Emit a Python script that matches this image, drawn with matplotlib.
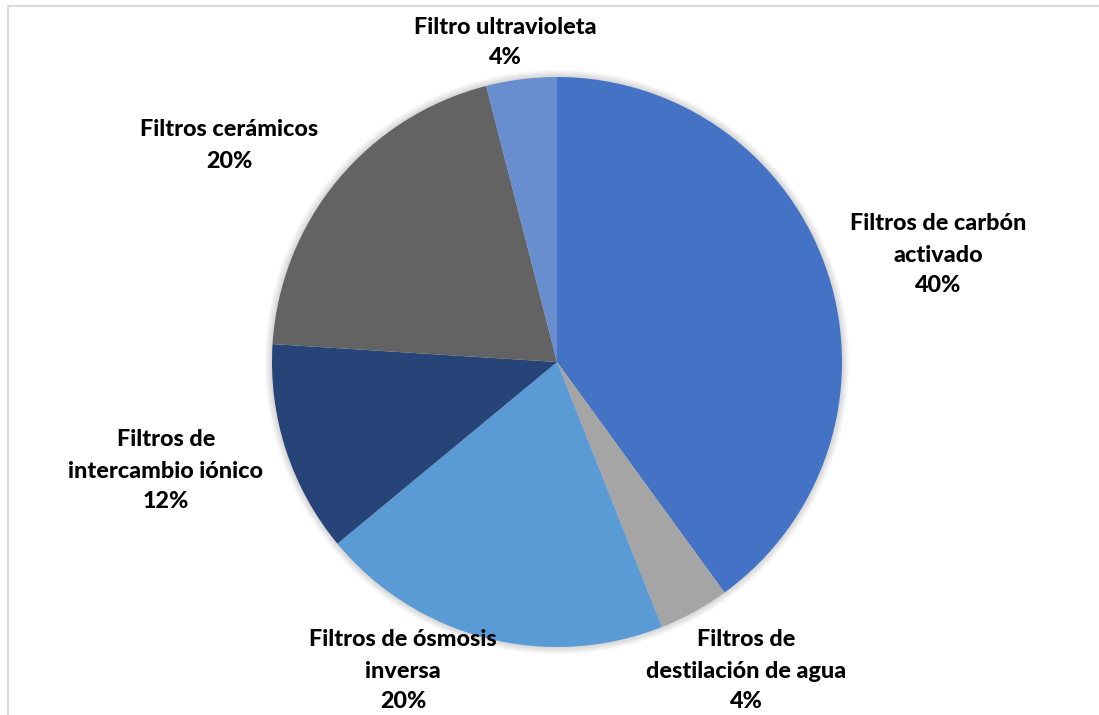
import matplotlib
matplotlib.use("Agg")
import matplotlib.pyplot as plt
from matplotlib.patches import Rectangle, Circle

# Tipos de filtro y su participación (%)
categorias = [
    "Filtros de carbón\nactivado",
    "Filtros de\ndestilación de agua",
    "Filtros de ósmosis\ninversa",
    "Filtros de\nintercambio iónico",
    "Filtros cerámicos",
    "Filtro ultravioleta",
]
valores = [40, 4, 20, 12, 20, 4]
colores = ["#4472C4", "#A5A5A5", "#5B9BD5", "#264478", "#636363", "#698ED0"]

W, H = 1099, 715
fig = plt.figure(figsize=(W / 100, H / 100), dpi=100)
ax = fig.add_axes([0, 0, 1, 1])

cx, cy, r = 557, H - 362, 285

# Soft shadow around the pie
for i in range(8):
    ax.add_patch(Circle((cx, cy), r + 1 + i * 0.9, facecolor="black",
                        alpha=0.018, edgecolor="none", zorder=1))

ax.pie(valores, colors=colores, startangle=90, counterclock=False,
       center=(cx, cy), radius=r, frame=True,
       wedgeprops=dict(linewidth=0, zorder=2))
ax.set_xlim(0, W)
ax.set_ylim(0, H)
ax.set_aspect("equal")
ax.axis("off")

# Chart frame
ax.add_patch(Rectangle((7.5, -10), W + 20, H - 5.5 + 10, fill=False,
                       edgecolor="#D9D9D9", linewidth=1.5))

# Label anchor positions (centre of the first line, pixels from top)
posiciones = [
    (938, 224),
    (746, 640),
    (403, 640),
    (166, 440),
    (229, 130),
    (505, 27),
]
salto = 31
for nombre, v, (x, y) in zip(categorias, valores, posiciones):
    lineas = nombre.split("\n") + [f"{v}%"]
    for k, ln in enumerate(lineas):
        ax.text(x, H - (y + k * salto), ln, ha="center", va="center",
                fontsize=16.8, fontweight=900, family="Lato",
                color="black", zorder=5)

fig.savefig("out.png", dpi=100, facecolor="white")
